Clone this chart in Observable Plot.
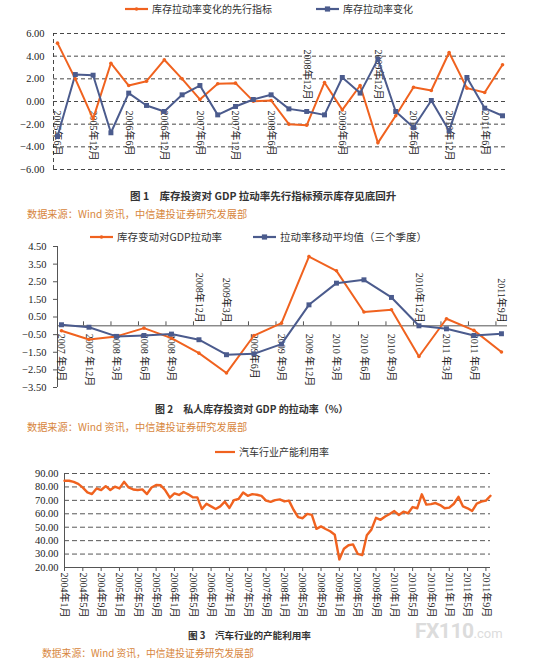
<!DOCTYPE html>
<html><head><meta charset="utf-8">
<script src="https://cdn.jsdelivr.net/npm/d3@7"></script>
<script src="https://cdn.jsdelivr.net/npm/@observablehq/plot@0.6"></script>
<style>
body{margin:0;background:#fff;}
#root{position:relative;width:554px;height:668px;overflow:hidden;font-family:"Noto Sans CJK SC",sans-serif;background:#fff;}
.abs{position:absolute;white-space:pre;line-height:1;}
.cap{font-weight:bold;color:#333;}
.src{color:#d7863c;}
.leg{color:#333;display:flex;align-items:center;}
svg{overflow:visible;}
</style></head>
<body><div id="root"></div>
<script>
// ---------- DATA ----------
// Chart 1 (quarterly)
const c1Periods = ["2005年6月","2005年9月","2005年12月","2006年3月","2006年6月","2006年9月","2006年12月","2007年3月","2007年6月","2007年9月","2007年12月","2008年3月","2008年6月","2008年9月","2008年12月","2009年3月","2009年6月","2009年9月","2009年12月","2010年3月","2010年6月","2010年9月","2010年12月","2011年3月","2011年6月","2011年9月"];
const c1Lead   = [5.15, 2.0, -1.53, 3.38, 1.41, 1.79, 3.68, 2.0, 0.18, 1.56, 1.62, 0.03, 0.09, -2.0, -2.1, 1.68, -0.74, 1.41, -3.65, -1.26, 1.26, 0.97, 4.32, 1.18, 0.79, 3.24];
const c1Change = [-3.09, 2.38, 2.32, -2.76, 0.74, -0.35, -0.88, 0.59, 1.41, -1.18, -0.44, 0.18, 0.59, -0.65, -0.88, -1.18, 2.12, 0.74, 3.74, -0.88, -2.29, 0.09, -2.59, 2.12, -0.59, -1.26];
const c1TickLabels = ["2005年6月","2005年12月","2006年6月","2006年12月","2007年6月","2007年12月","2008年6月","2008年12月","2009年6月","2009年12月","2010年6月","2010年12月","2011年6月"];
const c1YTicks = [-6, -4, -2, 0, 2, 4, 6];
const c1Names = ["库存拉动率变化的先行指标", "库存拉动率变化"];

// Chart 2 (quarterly)
const c2Labels = ["2007 年9月","2007 年12月","2008 年3月","2008 年6月","2008 年9月","2008年12月","2009年3月","2009年6月","2009 年9月","2009 年12月","2010 年3月","2010 年6月","2010 年9月","2010年12月","2011 年3月","2011 年6月","2011年9月"];
const c2Contrib = [-0.28, -0.78, -0.6, -0.13, -0.7, -1.55, -2.68, -0.55, 0.15, 3.93, 3.12, 0.78, 0.91, -1.74, 0.4, -0.26, -1.49];
const c2MA      = [0.06, -0.08, -0.6, -0.55, -0.47, -0.79, -1.64, -1.59, -1.04, 1.19, 2.42, 2.61, 1.61, 0.0, -0.17, -0.55, -0.45];
const c2YTicks = [4.5, 3.5, 2.5, 1.5, 0.5, -0.5, -1.5, -2.5, -3.5];
const c2Names = ["库存变动对GDP拉动率", "拉动率移动平均值（三个季度）"];

// Chart 3 (monthly from 2004年1月)
const c3Values = [
  84.6, 84.6, 83.7, 82.3, 79.5, 76.0, 74.7, 78.9, 77.7, 80.6,
  77.7, 80.2, 78.9, 83.8, 79.6, 78.1, 77.7, 78.2, 74.7, 79.6,
  81.4, 81.2, 77.5, 72.0, 75.2, 74.0, 76.2, 74.5, 72.3, 72.2,
  63.5, 67.5, 65.5, 63.6, 65.5, 69.0, 64.3, 70.2, 71.0, 75.8,
  73.4, 74.6, 74.2, 73.3, 69.8, 68.9, 70.2, 70.7, 69.2, 69.8,
  63.0, 57.5, 56.7, 59.9, 59.2, 48.8, 50.6, 48.7, 47.0, 44.4,
  26.0, 34.0, 36.6, 37.2, 30.2, 29.2, 44.0, 48.2, 57.0, 55.5,
  58.0, 59.8, 62.0, 59.1, 61.6, 60.4, 65.0, 64.1, 74.5, 66.8,
  67.2, 68.0, 66.5, 64.1, 64.6, 67.5, 72.6, 65.5, 64.1, 62.1,
  67.6, 69.0, 69.8, 73.4];
const c3TickLabels = ["2004年1月","2004年5月","2004年9月","2005年1月","2005年5月","2005年9月","2006年1月","2006年5月","2006年9月","2007年1月","2007年5月","2007年9月","2008年1月","2008年5月","2008年9月","2009年1月","2009年5月","2009年9月","2010年1月","2010年5月","2010年9月","2011年1月","2011年5月","2011年9月"];
const c3YTicks = [20, 30, 40, 50, 60, 70, 80, 90];
const c3Name = "汽车行业产能利用率";

const captions = ["图 1\u3000库存投资对 GDP 拉动率先行指标预示库存见底回升", "图 2\u3000私人库存投资对 GDP 的拉动率（%）", "图 3\u3000汽车行业的产能利用率"];
const source = "数据来源：Wind 资讯，中信建投证券研究发展部";

// ---------- STYLE ----------
const W = 554;
const ORANGE = "#f0621f";
const BLUE = "#4b5b8d";
const SERIF = "'Liberation Serif','Times New Roman','Noto Sans CJK SC',serif";
const root = document.getElementById("root");

function place(el, left, top) {
  el.style.left = left + "px"; el.style.top = top + "px";
  root.appendChild(el);
  return el;
}
function textDiv(txt, cls, left, cy, fs) {
  const d = document.createElement("div");
  d.className = "abs " + cls;
  d.style.fontSize = fs + "px";
  d.textContent = txt;
  return place(d, left, cy - fs / 2 - 1);
}
function legendItem(name, color, marker, left, cy, lineW, fs) {
  const d = document.createElement("div");
  d.className = "abs leg";
  d.style.fontSize = fs + "px";
  const ns = "http://www.w3.org/2000/svg";
  const s = document.createElementNS(ns, "svg");
  s.setAttribute("width", lineW); s.setAttribute("height", 8);
  s.style.marginRight = "4px";
  const l = document.createElementNS(ns, "line");
  l.setAttribute("x1", 0); l.setAttribute("x2", lineW); l.setAttribute("y1", 4); l.setAttribute("y2", 4);
  l.setAttribute("stroke", color); l.setAttribute("stroke-width", 2.2);
  s.appendChild(l);
  if (marker === "square") {
    const r = document.createElementNS(ns, "rect");
    r.setAttribute("x", lineW / 2 - 2.6); r.setAttribute("y", 1.4); r.setAttribute("width", 5.2); r.setAttribute("height", 5.2);
    r.setAttribute("fill", color); s.appendChild(r);
  } else if (marker === "dot") {
    const c = document.createElementNS(ns, "circle");
    c.setAttribute("cx", lineW / 2); c.setAttribute("cy", 4); c.setAttribute("r", 1.8);
    c.setAttribute("fill", color); s.appendChild(c);
  }
  d.appendChild(s);
  const t = document.createElement("span"); t.textContent = name; d.appendChild(t);
  return place(d, left, cy - 5);
}

// ---------- CHART 1 ----------
{
  const rows = c1Periods.map((p, i) => ({i, p, lead: c1Lead[i], chg: c1Change[i]}));
  const labs = c1TickLabels.map(l => { const i = c1Periods.indexOf(l); return {i, label: l, up: c1Lead[i] < -1.8}; });
  const x0 = -0.225, x1 = 25.28;
  const chart = Plot.plot({
    width: W, height: 154, marginTop: 13, marginBottom: 5, marginLeft: 53, marginRight: 47,
    x: {domain: [x0, x1], axis: null},
    y: {domain: [-6, 6]},
    marks: [
      Plot.ruleY(c1YTicks, {x1: x0, x2: x1, stroke: "#333", strokeWidth: 0.9, strokeDasharray: "4,3"}),
      Plot.ruleX([x0], {y1: -6, y2: 6, stroke: "#333", strokeWidth: 0.9, strokeDasharray: "4,3"}),
      Plot.axisY({ticks: c1YTicks, tickSize: 0, tickPadding: 9, tickFormat: d3.format(".2f"), fontSize: 10.5, fontFamily: SERIF, fill: "#222", label: null}),
      Plot.text(labs.filter(d => !d.up), {x: "i", y: 0, text: "label", rotate: 90, textAnchor: "start", lineAnchor: "middle", dy: 9, fontSize: 10, fontFamily: SERIF, fill: "#222"}),
      Plot.text(labs.filter(d => d.up), {x: "i", y: 0, text: "label", rotate: 90, textAnchor: "end", lineAnchor: "middle", dy: -2, fontSize: 10, fontFamily: SERIF, fill: "#222"}),
      Plot.line(rows, {x: "i", y: "lead", stroke: ORANGE, strokeWidth: 2}),
      Plot.line(rows, {x: "i", y: "chg", stroke: BLUE, strokeWidth: 2}),
      Plot.dot(rows, {x: "i", y: "lead", r: 1.8, fill: ORANGE}),
      Plot.dot(rows, {x: "i", y: "chg", r: 2.8, symbol: "square", fill: BLUE})
    ]
  });
  place(chart, 0, 20).style.position = "absolute";
  legendItem(c1Names[0], ORANGE, "dot", 125, 9, 23, 10);
  legendItem(c1Names[1], BLUE, "square", 316, 9, 23, 10);
  textDiv(captions[0], "cap", 130, 197, 10.5);
  textDiv(source, "src", 27, 215, 10.2);
}

// ---------- CHART 2 ----------
{
  const rows = c2Labels.map((l, i) => ({i, label: l, a: c2Contrib[i], m: c2MA[i], up: c2Contrib[i] < -1.2}));
  const x0 = -0.145, x1 = 16.22;
  const chart = Plot.plot({
    width: W, height: 169, marginTop: 6, marginBottom: 22, marginLeft: 57, marginRight: 47,
    x: {domain: [x0, x1], axis: null},
    y: {domain: [-3.5, 4.5]},
    marks: [
      Plot.ruleX([x0], {y1: -3.5, y2: 4.5, stroke: "#555", strokeWidth: 1}),
      Plot.axisY({ticks: c2YTicks, tickSize: 4, tickPadding: 7, tickFormat: d3.format(".2f"), fontSize: 10.5, fontFamily: SERIF, fill: "#222", stroke: "#555", label: null}),
      Plot.ruleY([0], {x1: x0, x2: x1, stroke: "#555", strokeWidth: 1}),
      Plot.ruleX(rows.slice(1), {x: "i", y1: 0, y2: 0, insetTop: -4, dx: -5.5, stroke: "#555"}),
      Plot.text(rows.filter(d => !d.up), {x: "i", y: 0, text: "label", rotate: 90, textAnchor: "start", lineAnchor: "middle", dy: 8, fontSize: 10, fontFamily: SERIF, fill: "#222"}),
      Plot.text(rows.filter(d => d.up), {x: "i", y: 0, text: "label", rotate: 90, textAnchor: "end", lineAnchor: "middle", dy: -3, fontSize: 10, fontFamily: SERIF, fill: "#222"}),
      Plot.line(rows, {x: "i", y: "a", stroke: ORANGE, strokeWidth: 2}),
      Plot.line(rows, {x: "i", y: "m", stroke: BLUE, strokeWidth: 2}),
      Plot.dot(rows, {x: "i", y: "a", r: 1.8, fill: ORANGE}),
      Plot.dot(rows, {x: "i", y: "m", r: 2.8, symbol: "square", fill: BLUE})
    ]
  });
  place(chart, 0, 240).style.position = "absolute";
  legendItem(c2Names[0], ORANGE, "dot", 90, 237, 23, 10.5);
  legendItem(c2Names[1], BLUE, "square", 253, 237, 23, 10.5);
  textDiv(captions[1], "cap", 155, 410, 10);
  textDiv(source, "src", 27, 428, 10.2);
}

// ---------- CHART 3 ----------
{
  const rows = c3Values.map((v, i) => ({i, v}));
  const monthIndex = l => { const m = l.match(/(\d+)年(\d+)月/); return (+m[1] - 2004) * 12 + (+m[2] - 1); };
  const ticks = c3TickLabels.map(l => ({i: monthIndex(l), label: l}));
  const x0 = 0, x1 = c3Values.length - 1;
  const chart = Plot.plot({
    width: W, height: 154, marginTop: 10, marginBottom: 50, marginLeft: 64, marginRight: 64,
    x: {domain: [x0, x1], axis: null},
    y: {domain: [20, 90]},
    marks: [
      Plot.ruleY(c3YTicks.slice(1), {x1: x0, x2: x1, stroke: "#444", strokeWidth: 0.9, strokeDasharray: "5,3"}),
      Plot.ruleX([x0], {y1: 20, y2: 90, stroke: "#555", strokeWidth: 1}),
      Plot.ruleY([20], {x1: x0, x2: x1, stroke: "#555", strokeWidth: 1}),
      Plot.axisY({ticks: c3YTicks, tickSize: 0, tickPadding: 6, tickFormat: d3.format(".2f"), fontSize: 10.5, fontFamily: SERIF, fill: "#222", label: null}),
      Plot.ruleX(ticks, {x: "i", y1: 20, y2: 20, insetBottom: -4, stroke: "#555"}),
      Plot.text(ticks, {x: "i", y: 20, text: "label", rotate: 90, textAnchor: "start", lineAnchor: "middle", dy: 5, fontSize: 10, fontFamily: SERIF, fill: "#222"}),
      Plot.line(rows, {x: "i", y: "v", stroke: ORANGE, strokeWidth: 2.4})
    ]
  });
  place(chart, 0, 463).style.position = "absolute";
  legendItem(c3Name, ORANGE, null, 215, 452, 20, 10);
  textDiv(captions[2], "cap", 188, 637, 9.6);
  textDiv(source, "src", 42, 655, 9.8);
  const wm = document.createElement("div");
  wm.className = "abs";
  wm.style.color = "#dcdcdc";
  wm.innerHTML = '<span style="font:bold 21px Roboto,sans-serif;letter-spacing:-0.5px">FX110</span><span style="font:13px Roboto,sans-serif">.com</span>';
  place(wm, 415, 619);
}
</script></body></html>
